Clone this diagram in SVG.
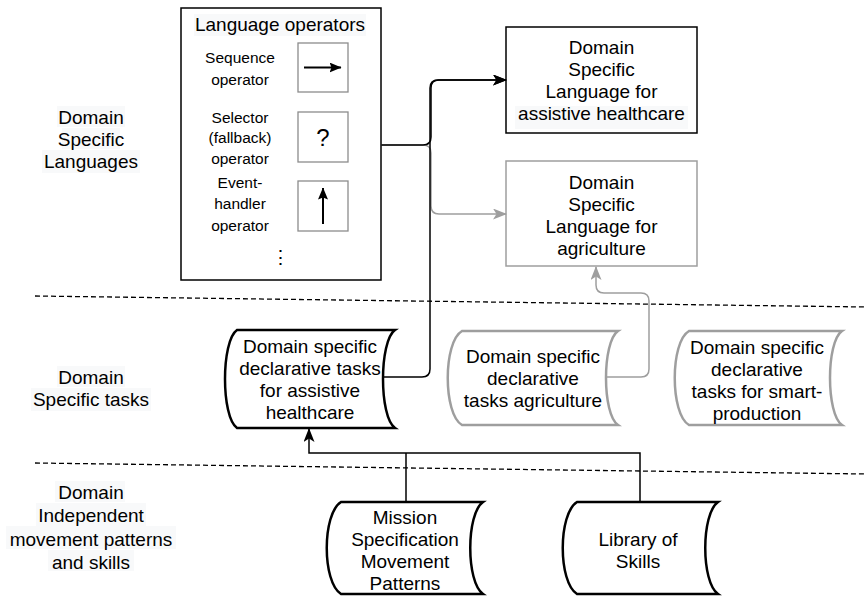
<svg xmlns="http://www.w3.org/2000/svg" width="866" height="597" viewBox="0 0 866 597">
  <style>
    text { font-family: "Liberation Sans", Arial, sans-serif; fill: #000; text-anchor: middle; }
    .t18 { font-size: 19px; }
    .t15 { font-size: 15.5px; }
    .hl { fill: #f8f9fa; }
    .box { fill: #fff; stroke: #000; stroke-width: 1.5; }
    .boxg { fill: #fff; stroke: #9e9e9e; stroke-width: 1.5; }
    .op { fill: #fff; stroke: #8c8c8c; stroke-width: 1.3; }
    .opline { fill: none; stroke: #000; stroke-width: 2; }
    .store { fill: #fff; stroke: #000; stroke-width: 2.5; }
    .storeg { fill: #fff; stroke: #9e9e9e; stroke-width: 2.5; }
    .edge { fill: none; stroke: #000; stroke-width: 1.5; }
    .edgeg { fill: none; stroke: #9e9e9e; stroke-width: 1.5; }
    .sep { fill: none; stroke: #000; stroke-width: 1.3; stroke-dasharray: 5 3; }
  </style>
  <defs>
    <marker id="arr" markerUnits="userSpaceOnUse" viewBox="0 0 14 11" refX="13" refY="5.5" markerWidth="14" markerHeight="11" orient="auto">
      <path d="M0,0 L14,5.5 L0,11 L3.5,5.5 Z" fill="#000"/>
    </marker>
    <marker id="arrg" markerUnits="userSpaceOnUse" viewBox="0 0 14 11" refX="13" refY="5.5" markerWidth="14" markerHeight="11" orient="auto">
      <path d="M0,0 L14,5.5 L0,11 L3.5,5.5 Z" fill="#9e9e9e"/>
    </marker>
    <marker id="arrs" markerUnits="userSpaceOnUse" viewBox="0 0 12 10" refX="11.5" refY="5" markerWidth="12" markerHeight="10" orient="auto">
      <path d="M0,0 L12,5 L0,10 L2,5 Z" fill="#000"/>
    </marker>
  </defs>

  <!-- layer separators -->
  <g id="separators">
    <line class="sep" x1="35" y1="296" x2="866" y2="307"/>
    <line class="sep" x1="35" y1="463" x2="866" y2="474"/>
  </g>

  <!-- layer labels -->
  <g id="label-dsl">
    <rect class="hl" x="57" y="106" width="68" height="21"/>
    <rect class="hl" x="62" y="128" width="58" height="21"/>
    <rect class="hl" x="42" y="150" width="98" height="23"/>
    <text class="t18" x="91" y="124">Domain</text>
    <text class="t18" x="91" y="146">Specific</text>
    <text class="t18" x="91" y="168">Languages</text>
  </g>
  <g id="label-tasks">
    <rect class="hl" x="57" y="366" width="68" height="21"/>
    <rect class="hl" x="31" y="388" width="120" height="23"/>
    <text class="t18" x="91" y="384">Domain</text>
    <text class="t18" x="91" y="406">Specific tasks</text>
  </g>
  <g id="label-independent">
    <rect class="hl" x="55" y="481" width="70" height="21"/>
    <rect class="hl" x="36" y="503" width="110" height="23"/>
    <rect class="hl" x="6" y="526" width="170" height="23"/>
    <rect class="hl" x="48" y="550" width="86" height="21"/>
    <text class="t18" x="91" y="499">Domain</text>
    <text class="t18" x="91" y="522">Independent</text>
    <text class="t18" x="91" y="546">movement patterns</text>
    <text class="t18" x="91" y="569">and skills</text>
  </g>

  <!-- language operators panel -->
  <g id="language-operators">
    <rect class="box" x="181" y="8" width="200" height="272"/>
    <rect class="hl" x="194" y="14" width="172" height="22"/>
    <text class="t18" x="280" y="31">Language operators</text>

    <text class="t15" x="240" y="63">Sequence</text>
    <text class="t15" x="240" y="85">operator</text>
    <rect class="op" x="298" y="43" width="50" height="49"/>
    <line class="opline" x1="304" y1="67.5" x2="341" y2="67.5" marker-end="url(#arrs)"/>

    <text class="t15" x="240" y="123">Selector</text>
    <text class="t15" x="240" y="143">(fallback)</text>
    <text class="t15" x="240" y="164">operator</text>
    <rect class="op" x="298" y="112" width="50" height="50"/>
    <text x="323" y="146" style="font-size:24px">?</text>

    <text class="t15" x="240" y="188">Event-</text>
    <text class="t15" x="240" y="209">handler</text>
    <text class="t15" x="240" y="231">operator</text>
    <rect class="op" x="298" y="181" width="50" height="50"/>
    <line class="opline" x1="323" y1="224" x2="323" y2="188" marker-end="url(#arrs)"/>

    <text class="t18" x="280" y="264">⋮</text>
  </g>

  <!-- domain specific languages -->
  <g id="dsl-healthcare">
    <rect class="box" x="506" y="27" width="191" height="106"/>
    <text class="t18" x="601.5" y="54">Domain</text>
    <text class="t18" x="601.5" y="76">Specific</text>
    <text class="t18" x="601.5" y="98">Language for</text>
    <rect class="hl" x="515" y="106" width="173" height="23"/>
    <text class="t18" x="601.5" y="120">assistive healthcare</text>
  </g>
  <g id="dsl-agriculture">
    <rect class="boxg" x="506" y="161" width="191" height="105"/>
    <text class="t18" x="601.5" y="189">Domain</text>
    <text class="t18" x="601.5" y="211">Specific</text>
    <text class="t18" x="601.5" y="233">Language for</text>
    <text class="t18" x="601.5" y="255">agriculture</text>
  </g>

  <!-- domain specific task stores -->
  <g id="tasks-healthcare">
    <path class="store" d="M237,330 H395 C379,341 379,417 395,428 H237 C221,417 221,341 237,330 Z"/>
    <text class="t18" x="310" y="353">Domain specific</text>
    <text class="t18" x="310" y="375">declarative tasks</text>
    <text class="t18" x="310" y="397">for assistive</text>
    <text class="t18" x="310" y="419">healthcare</text>
  </g>
  <g id="tasks-agriculture">
    <path class="storeg" d="M462,331 H618 C602,342 602,414 618,425 H462 C443,414 443,342 462,331 Z"/>
    <text class="t18" x="533" y="363">Domain specific</text>
    <text class="t18" x="533" y="385">declarative</text>
    <text class="t18" x="533" y="407">tasks agriculture</text>
  </g>
  <g id="tasks-smart-production">
    <path class="storeg" d="M689,331 H842 C826,342 826,414 842,425 H689 C670,414 670,342 689,331 Z"/>
    <text class="t18" x="757" y="354">Domain specific</text>
    <text class="t18" x="757" y="376">declarative</text>
    <text class="t18" x="757" y="398">tasks for smart-</text>
    <text class="t18" x="757" y="420">production</text>
  </g>

  <!-- domain independent stores -->
  <g id="mission-patterns">
    <path class="store" d="M341,502 H483 C466,514 466,582 483,594 H341 C322,582 322,514 341,502 Z"/>
    <text class="t18" x="405" y="524">Mission</text>
    <text class="t18" x="405" y="546">Specification</text>
    <text class="t18" x="405" y="568">Movement</text>
    <text class="t18" x="405" y="590">Patterns</text>
  </g>
  <g id="skills-library">
    <path class="store" d="M577,502 H718 C701,514 701,582 718,594 H577 C558,582 558,514 577,502 Z"/>
    <text class="t18" x="638" y="546">Library of</text>
    <text class="t18" x="638" y="568">Skills</text>
  </g>

  <!-- connectors -->
  <g id="connectors">
    <path class="edgeg" d="M381,145 H423 Q431,145 431,153 V206 Q431,214 439,214 H506" marker-end="url(#arrg)"/>
    <path class="edge" d="M381,145 H423 Q431,145 431,137 V88 Q431,80 439,80 H506" marker-end="url(#arr)"/>
    <path class="edge" d="M383,377 H422 Q430,377 430,369 V88 Q430,80 438,80 H506" marker-end="url(#arr)"/>
    <path class="edgeg" d="M607,377 H641 Q649,377 649,369 V301 Q649,293 641,293 H604 Q596,293 596,285 V267" marker-end="url(#arrg)"/>
    <path class="edge" d="M406,502 V453"/>
    <path class="edge" d="M640,502 V453 H309 V429" marker-end="url(#arr)"/>
  </g>
</svg>
